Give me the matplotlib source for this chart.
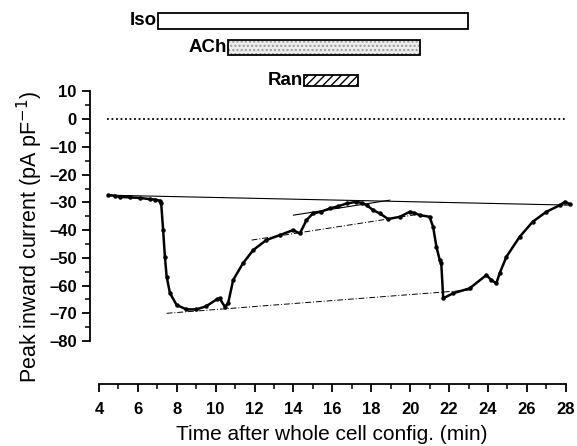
import matplotlib
matplotlib.use("Agg")
import matplotlib.pyplot as plt
import matplotlib.patches as mpatches
from matplotlib.transforms import blended_transform_factory

plt.rcParams['font.family'] = ['Liberation Sans', 'DejaVu Sans']

# trace (time in min, current in pA/pF)
t = [4.48, 4.8, 5.08, 5.6, 6.1, 6.6, 6.9, 7.13, 7.2, 7.3, 7.39, 7.48, 7.65, 7.99,
     8.5, 9.0, 9.5, 10.05, 10.2, 10.47, 10.64, 10.9, 11.4, 11.93, 12.6, 13.3,
     13.98, 14.33, 14.67, 15.0, 15.4, 15.87, 16.3, 16.73, 17.24, 17.5, 17.76,
     18.1, 18.44, 18.87, 19.47, 19.98, 20.2, 20.5, 21.0, 21.18, 21.35, 21.52,
     21.6, 21.7, 22.2, 23.06, 23.92, 24.17, 24.43, 24.6, 24.95, 25.63, 26.3,
     27.0, 27.7, 27.95, 28.2]
current = [-27.4, -27.6, -28.0, -28.2, -28.4, -28.8, -29.0, -29.4, -30.4, -40.0,
           -49.6, -56.8, -62.7, -67.0, -68.6, -68.6, -67.5, -65.0, -64.6, -67.6,
           -66.4, -58.0, -52.0, -47.2, -43.6, -41.8, -40.0, -41.2, -36.4, -34.0,
           -33.4, -32.2, -31.4, -30.4, -29.8, -30.2, -31.0, -32.8, -34.0, -36.0,
           -35.2, -33.4, -33.8, -34.6, -35.2, -38.8, -46.0, -50.8, -52.0, -64.6,
           -62.8, -61.0, -56.2, -58.0, -59.2, -55.6, -49.6, -42.4, -37.0, -33.4,
           -31.0, -29.8, -30.6]

# fitted reference lines (start/end points)
base_t, base_v = [4.48, 28.3], [-27.4, -31.0]
ran_t, ran_v = [14.0, 18.95], [-34.6, -29.2]
ach_t, ach_v = [11.85, 20.15], [-43.6, -34.6]
iso_t, iso_v = [7.48, 23.06], [-70.0, -61.6]

# drug application bars: (label, start, end)
bars = [("Iso", 7.04, 22.98), ("ACh", 10.65, 20.5), ("Ran", 14.55, 17.3)]
bar_y = [(0.935, 0.971), (0.877, 0.910), (0.807, 0.832)]

fig = plt.figure(figsize=(5.77, 4.46), dpi=100)
ax = fig.add_axes([0.156, 0.139, 0.838, 0.659])

ax.plot(base_t, base_v, color='black', lw=0.8)
ax.plot(ran_t, ran_v, color='black', lw=0.8)
ax.plot(ach_t, ach_v, color='black', lw=0.7, ls=(0, (6, 2, 1, 2)))
ax.plot(iso_t, iso_v, color='black', lw=0.7, ls=(0, (6, 2, 1, 2)))
ax.plot([4.4, 28.0], [0, 0], color='black', lw=1.3, ls=(0, (1, 1.5)))
ax.plot(t, current, color='black', lw=1.8, marker='o', ms=2.2)

ax.set_xlim(3.54, 28.4)
ax.set_ylim(-95.5, 10.5)
for s in ['top', 'right']:
    ax.spines[s].set_visible(False)
ax.spines['left'].set_bounds(-80, 10)
ax.spines['bottom'].set_bounds(4, 28)
ax.spines['left'].set_linewidth(1.3)
ax.spines['bottom'].set_linewidth(1.3)

ax.set_xticks(range(4, 29, 2))
ax.set_xticks(range(4, 29, 1), minor=True)
ax.set_yticks(range(-80, 11, 10))
ax.set_yticks(range(-80, 11, 5), minor=True)
ax.set_yticklabels([str(v).replace('-', '\u2013') for v in range(-80, 11, 10)])
ax.tick_params(which='major', length=6, width=1.3, labelsize=12)
ax.tick_params(axis='x', which='major', pad=7)
ax.tick_params(which='minor', length=3.5, width=1.1)
for lab in ax.get_xticklabels() + ax.get_yticklabels():
    lab.set_fontweight('bold')

ax.set_xlabel("Time after whole cell config. (min)", fontsize=15, labelpad=6)
ax.set_ylabel("Peak inward current (pA pF$^{-1}$)", fontsize=15.5, labelpad=3)

tr = blended_transform_factory(ax.transData, fig.transFigure)
for i, ((name, a, b), (y0, y1)) in enumerate(zip(bars, bar_y)):
    if i == 1:
        fill = mpatches.Rectangle((a, y0), b - a, y1 - y0, transform=tr,
                                  facecolor='#ececec', edgecolor='#9a9a9a',
                                  hatch='....', lw=0, clip_on=False)
        fig.add_artist(fill)
    rect = mpatches.Rectangle((a, y0), b - a, y1 - y0, transform=tr,
                              facecolor='none' if i == 1 else 'white',
                              hatch='////' if i == 2 else None,
                              edgecolor='black', lw=1.3, clip_on=False)
    fig.add_artist(rect)
    fig.text(a - 0.05, (y0 + y1) / 2, name, transform=tr, fontsize=13.5,
             fontweight='bold', ha='right', va='center')

fig.savefig("out.png", dpi=100)
